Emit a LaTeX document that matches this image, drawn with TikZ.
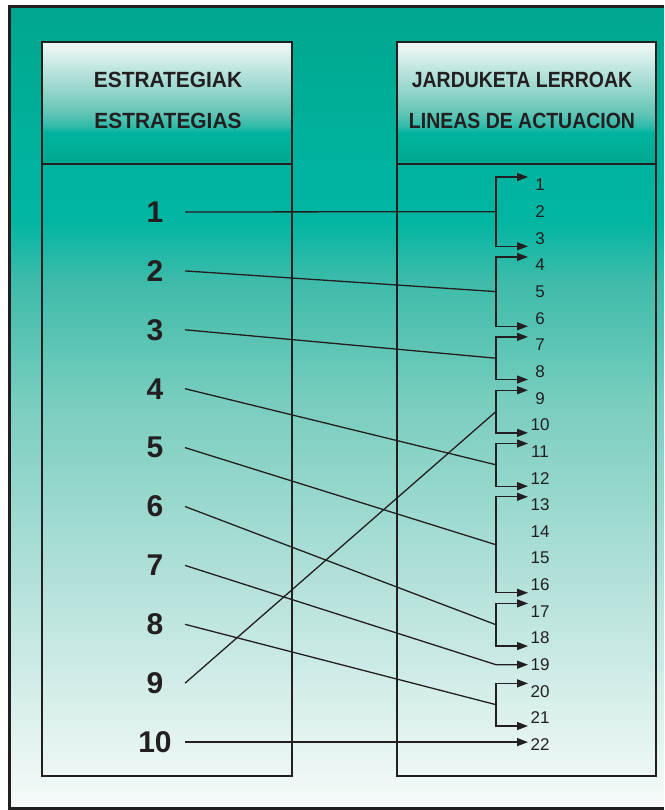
\documentclass[tikz,border=0pt]{standalone}
\usepackage{graphicx}
\usepackage{fontspec}
\setmainfont{Liberation Sans}
\usetikzlibrary{arrows.meta,calc}

\definecolor{ink}{RGB}{35,31,32}
\definecolor{tealA}{RGB}{0,166,141}
\definecolor{tealM}{RGB}{0,178,157}
\definecolor{tealB}{RGB}{0,182,162}
\definecolor{bga}{RGB}{61,187,170}
\definecolor{bgb}{RGB}{120,205,190}
\definecolor{bgc}{RGB}{185,227,220}
\definecolor{bgwhite}{RGB}{247,251,250}
\definecolor{hdark}{RGB}{0,168,143}
\definecolor{hmid}{RGB}{0,180,159}
\definecolor{hedge}{RGB}{40,186,168}
\definecolor{hlow}{RGB}{95,196,181}
\definecolor{hhigh}{RGB}{168,220,212}
\definecolor{htop}{RGB}{242,249,248}

\pgfdeclareverticalshading{bgshade}{100bp}{color(0bp)=(bgwhite); color(25bp)=(bgwhite); color(37.98bp)=(bgc); color(50.47bp)=(bgb); color(57.96bp)=(bga); color(61.7bp)=(tealB); color(66.07bp)=(tealM); color(75bp)=(tealA); color(100bp)=(tealA)}
\pgfdeclareverticalshading{headshade}{100bp}{color(0bp)=(hdark); color(25bp)=(hdark); color(38bp)=(hmid); color(40bp)=(hedge); color(45.5bp)=(hlow); color(59bp)=(hhigh); color(75bp)=(htop); color(100bp)=(htop)}

\tikzstyle{frame box} = [rectangle, draw=ink, line width=2pt, anchor=north west, minimum height=734pt]
\tikzstyle{head box} = [rectangle, draw=ink, line width=2pt, anchor=north west, minimum height=122pt, shade, shading=headshade]
\tikzstyle{title} = [font=\fontsize{22}{26}\selectfont\bfseries, text=ink]
\tikzstyle{strat} = [font=\fontsize{30}{36}\selectfont\bfseries, text=ink, inner sep=0pt]
\tikzstyle{line nr} = [font=\fontsize{17}{20}\selectfont, text=ink, inner sep=0pt]
\tikzstyle{link} = [draw=ink, line width=1.3pt]
\tikzstyle{arrowline} = [link, -{Triangle[length=11pt,width=8pt]}]

\begin{document}
\begin{tikzpicture}[x=1pt,y=-1pt]

    \useasboundingbox (0,0) rectangle (664,810);
    \shade[shading=bgshade] (9,7) rectangle (664,808);
    \draw[ink, line width=3pt] (664,7) -- (9,7) -- (9,808) -- (664,808);

    % columns
    \node (SB) [frame box, minimum width=250pt] at (41,41) { };
    \node (SH) [head box, minimum width=250pt] at (41,41) { };
    \node (SHt) [title] at (168,79.5) {\scalebox{0.95}[1]{ESTRATEGIAK}};
    \node (SHb) [title] at (168,121) {\scalebox{0.95}[1]{ESTRATEGIAS}};
    \node (LB) [frame box, minimum width=259pt] at (396,41) { };
    \node (LH) [head box, minimum width=259pt] at (396,41) { };
    \node (LHt) [title] at (522,79.5) {\scalebox{0.885}[1]{JARDUKETA LERROAK}};
    \node (LHb) [title] at (522,121) {\scalebox{0.885}[1]{LINEAS DE ACTUACION}};

    % numbers
    \foreach \i in {1,...,10}
        \node (s\i) [strat] at (155,{212+(\i-1)*58.9}) {\i};
    \foreach \j in {1,...,22}
        \node (l\j) [line nr] at (540,{185+(\j-1)*26.65}) {\j};

    \coordinate (sx) at (185,0);
    \coordinate (bx) at (496,0);
    \coordinate (tx) at (528,0);

    % brackets
    \foreach \s/\a/\b in {1/1/3,2/4/6,3/7/8,9/9/10,4/11/12,5/13/16,6/17/18,8/20/21} {
        \coordinate (b\s) at ($(bx |- l\a)!0.5!(bx |- l\b)$);
        \draw[link] (sx |- s\s) -- (b\s);
        \draw[arrowline] (b\s) |- ($(tx |- l\a)+(0,-8)$);
        \draw[arrowline] (b\s) |- ($(tx |- l\b)+(0,8)$);
    }
    \coordinate (b7) at (bx |- l19);
    \draw[arrowline] (sx |- s7) -- (b7) -- (tx |- l19);
    \draw[arrowline] (sx |- s10) -- (tx |- s10);

\end{tikzpicture}
\end{document}
